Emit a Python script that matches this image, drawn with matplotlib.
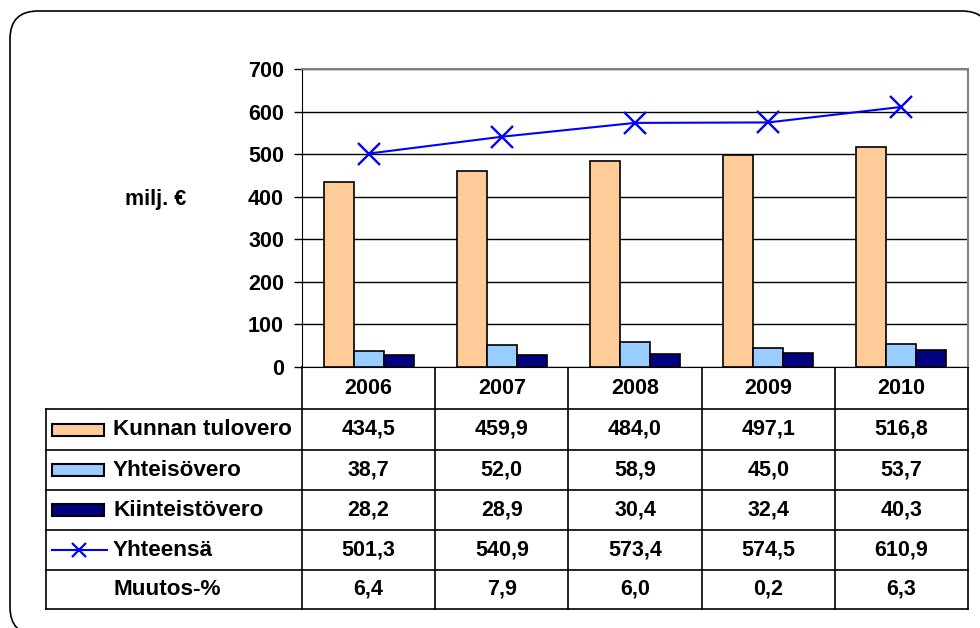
import matplotlib
matplotlib.use("Agg")
import matplotlib.pyplot as plt
import matplotlib.patches as mpatches
from matplotlib.lines import Line2D
import numpy as np

plt.rcParams['font.family'] = ['Liberation Sans', 'DejaVu Sans']
plt.rcParams['font.weight'] = 'bold'

years = ['2006', '2007', '2008', '2009', '2010']
kunnan = [434.5, 459.9, 484.0, 497.1, 516.8]
yhteiso = [38.7, 52.0, 58.9, 45.0, 53.7]
kiinteisto = [28.2, 28.9, 30.4, 32.4, 40.3]
yhteensa = [501.3, 540.9, 573.4, 574.5, 610.9]
muutos = [6.4, 7.9, 6.0, 0.2, 6.3]

c_kunnan = '#FFCC99'
c_yhteiso = '#99CCFF'
c_kiint = '#000080'
c_line = '#0000FF'

W, H = 980, 628
fig = plt.figure(figsize=(W / 100, H / 100), dpi=100)

# overlay axes in pixel coordinates for frame and table
bg = fig.add_axes([0, 0, 1, 1])
bg.set_xlim(0, W)
bg.set_ylim(H, 0)
bg.axis('off')
frame = mpatches.FancyBboxPatch((10, 11), 980, 624, boxstyle='round,pad=0,rounding_size=28',
                                fc='white', ec='black', lw=1.2)
bg.add_patch(frame)

# plot area
L, R, T, B = 302, 968, 69, 367
ax = fig.add_axes([L / W, 1 - B / H, (R - L) / W, (B - T) / H])
x = np.arange(len(years))
bw = 0.225
ax.bar(x - bw, kunnan, bw, color=c_kunnan, edgecolor='black', lw=1.2, zorder=3)
ax.bar(x, yhteiso, bw, color=c_yhteiso, edgecolor='black', lw=1.2, zorder=3)
ax.bar(x + bw, kiinteisto, bw, color=c_kiint, edgecolor='black', lw=1.2, zorder=3)
ax.plot(x, yhteensa, color=c_line, lw=1.5, marker='x', ms=16, mew=1.7, zorder=4)
ax.set_xlim(-0.5, 4.5)
ax.set_ylim(0, 700)
ax.set_yticks(range(0, 701, 100))
ax.yaxis.grid(True, color='black', lw=1)
ax.set_axisbelow(True)
ax.set_xticks([])
ax.tick_params(axis='y', direction='out', length=6, width=1, labelsize=15.5, pad=7)
for lab in ax.get_yticklabels():
    lab.set_fontweight('bold')
ax.spines['left'].set_color('black')
ax.spines['bottom'].set_color('black')
ax.spines['top'].set_color('#808080')
ax.spines['right'].set_color('#808080')
ax.spines['top'].set_linewidth(1.5)
ax.spines['right'].set_linewidth(1.5)
fig.text(156 / W, 1 - 200 / H, 'milj. €', fontsize=15.5, fontweight='bold', ha='center', va='center')

# data table
tl = 46
rows = [367, 409, 450, 490, 530, 570, 609]
colw = (R - L) / len(years)
cols = [L + i * colw for i in range(len(years) + 1)]
lk = dict(color='black', lw=1.2)
for y in rows[1:]:
    bg.plot([tl, R], [y, y], **lk)
bg.plot([tl, tl], [rows[1], rows[-1]], **lk)
for cx in cols:
    bg.plot([cx, cx], [rows[0], rows[-1]], **lk)

fs = 15.5
for i, yr in enumerate(years):
    cx = cols[i] + colw / 2
    bg.text(cx, (rows[0] + rows[1]) / 2, yr, ha='center', va='center', fontsize=fs, fontweight='bold')

series = [kunnan, yhteiso, kiinteisto, yhteensa, muutos]
names = ['Kunnan tulovero', 'Yhteisövero', 'Kiinteistövero', 'Yhteensä', 'Muutos-%']
for r, (vals, name) in enumerate(zip(series, names)):
    yc = (rows[r + 1] + rows[r + 2]) / 2
    for i, v in enumerate(vals):
        cx = cols[i] + colw / 2
        bg.text(cx, yc, f'{v:.1f}'.replace('.', ','), ha='center', va='center',
                fontsize=fs, fontweight='bold')
    bg.text(113, yc, name, ha='left', va='center', fontsize=16.2, fontweight='bold')

# legend keys
for r, col in enumerate([c_kunnan, c_yhteiso, c_kiint]):
    yc = (rows[r + 1] + rows[r + 2]) / 2
    bg.add_patch(mpatches.Rectangle((52, yc - 6), 52, 12, fc=col, ec='black', lw=1.5))
yc = (rows[4] + rows[5]) / 2
bg.add_line(Line2D([52, 107], [yc, yc], color=c_line, lw=1.5))
bg.plot([79], [yc], marker='x', color=c_line, ms=10, mew=1.6)

fig.savefig('out.png', dpi=100)
